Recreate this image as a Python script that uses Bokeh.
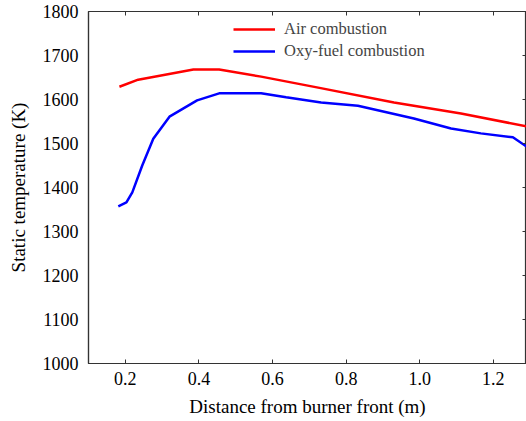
from bokeh.plotting import figure
from bokeh.models import Range1d, LinearAxis, Legend, LegendItem, FixedTicker, PrintfTickFormatter
from bokeh.embed import file_html
from bokeh.resources import INLINE

air_x = [0.184, 0.235, 0.385, 0.455, 0.569, 0.724, 0.93, 1.112, 1.29]
air_y = [1629, 1645, 1668, 1668, 1652, 1627, 1593, 1568, 1539]

oxy_x = [0.181, 0.203, 0.219, 0.246, 0.276, 0.32, 0.395, 0.455, 0.569, 0.637, 0.732, 0.832, 0.984, 1.085, 1.166, 1.253, 1.29]
oxy_y = [1357, 1366, 1389, 1450, 1511, 1561, 1598, 1614, 1614, 1605, 1593, 1586, 1557, 1534, 1523, 1514, 1493]

x_ticks = [0.2, 0.4, 0.6, 0.8, 1.0, 1.2]
y_ticks = [1000, 1100, 1200, 1300, 1400, 1500, 1600, 1700, 1800]

FONT = "'Liberation Serif', 'Times New Roman', serif"

p = figure(width=526, height=421, output_backend="svg", toolbar_location=None,
           x_range=Range1d(0.1, 1.29), y_range=Range1d(1000, 1800),
           min_border_left=88, min_border_right=0, min_border_top=11,
           min_border_bottom=58)
p.grid.visible = False
p.outline_line_color = "#333333"
p.outline_line_width = 1.2
p.background_fill_color = "white"
p.border_fill_color = "white"

r1 = p.line(air_x, air_y, line_color="#ff0000", line_width=2.5)
r2 = p.line(oxy_x, oxy_y, line_color="#0000ff", line_width=2.5)

xa = p.xaxis[0]
xa.ticker = FixedTicker(ticks=x_ticks)
xa.formatter = PrintfTickFormatter(format="%.1f")
xa.axis_label = "Distance from burner front (m)"
ya = p.yaxis[0]
ya.ticker = FixedTicker(ticks=y_ticks)
ya.axis_label = "Static temperature (K)"

for ax in (xa, ya):
    ax.axis_line_color = "#333333"
    ax.axis_line_width = 1.2
    ax.major_tick_line_color = "#333333"
    ax.major_tick_in = 4
    ax.major_tick_out = 0
    ax.minor_tick_line_color = None
    ax.major_label_text_font = FONT
    ax.major_label_text_font_size = "18px"
    ax.major_label_text_color = "black"
    ax.axis_label_text_font = FONT
    ax.axis_label_text_font_size = "19px"
    ax.axis_label_text_font_style = "normal"
    ax.axis_label_text_color = "black"
ya.major_tick_in = 0
xa.major_label_standoff = 8
ya.major_label_standoff = 10
xa.axis_label_standoff = 8
ya.axis_label_standoff = 11

top = LinearAxis(ticker=FixedTicker(ticks=x_ticks),
                 major_label_overrides={t: "" for t in x_ticks},
                 major_tick_in=4, major_tick_out=0, minor_tick_line_color=None,
                 axis_line_color=None, major_tick_line_color="#333333",
                 major_label_standoff=0)
p.add_layout(top, "above")
right = LinearAxis(ticker=FixedTicker(ticks=y_ticks),
                   major_label_overrides={t: "" for t in y_ticks},
                   major_tick_in=4, major_tick_out=0, minor_tick_line_color=None,
                   axis_line_color=None, major_tick_line_color="#333333",
                   major_label_standoff=0)
p.add_layout(right, "right")

legend = Legend(items=[LegendItem(label="Air combustion", renderers=[r1]),
                       LegendItem(label="Oxy-fuel combustion", renderers=[r2])],
                location=(145, 302), padding=0, margin=0, spacing=2,
                glyph_width=42, glyph_height=20, label_height=20, label_standoff=9,
                label_text_font=FONT, label_text_font_size="16.5px",
                background_fill_alpha=0, border_line_color=None)
p.add_layout(legend, "center")

open("out.html", "w").write(file_html(p, INLINE))
